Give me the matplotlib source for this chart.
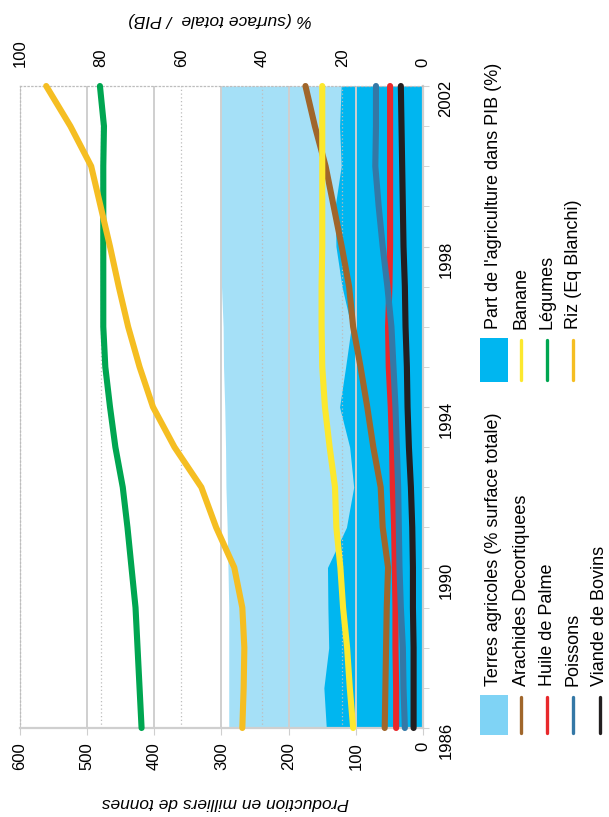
import matplotlib
matplotlib.use("Agg")
import matplotlib.pyplot as plt
from matplotlib.patches import Rectangle
from matplotlib.ticker import MultipleLocator
import numpy as np

plt.rcParams['font.family'] = ['Liberation Sans', 'DejaVu Sans']

# ---- data ----
years = np.arange(1986, 2003)

# production, thousands of tonnes
arachides = [57, 56, 55, 54, 52, 60, 63, 74, 83, 93, 104, 110, 121, 133, 145, 161, 175]
banane = [104, 109, 113, 119, 123, 129, 131, 139, 146, 150, 151, 151, 150, 150, 150, 150, 150]
huile = [40, 40, 41, 41, 42, 43, 45, 46, 48, 51, 52, 50, 49, 49, 49, 49, 49]
legumes = [419, 422, 425, 428, 434, 440, 447, 458, 466, 473, 476, 476, 476, 476, 476, 475, 481]
poissons = [27, 29, 30, 33, 35, 36, 37, 39, 41, 44, 47, 53, 60, 66, 71, 70, 70]
riz = [269, 267, 266, 269, 281, 308, 330, 370, 402, 422, 439, 453, 466, 480, 494, 525, 561]
viande = [14, 14, 14, 15, 15, 16, 18, 21, 23, 24, 26, 27, 29, 30, 31, 32, 33]

# percent (right axis)
terres = [48.2, 48.2, 48.2, 48.2, 48.4, 48.6, 48.9, 49.0, 49.2, 49.5, 49.6, 50.0,
          50.2, 50.2, 50.2, 50.2, 50.2]
pib = [24.0, 24.6, 23.4, 23.6, 23.7, 19.0, 17.2, 18.2, 20.7, 19.2, 17.8, 20.1,
       21.6, 21.8, 20.3, 20.7, 20.3]

prod_ticks = [0, 100, 200, 300, 400, 500, 600]
pct_ticks = [0, 20, 40, 60, 80, 100]
year_ticks = [1986, 1990, 1994, 1998, 2002]

# ---- styles ----
c_terres = '#7FD3F5'
c_pib = '#00B6F0'
series = [
    ('Arachides Decortiquees', arachides, '#A0662B'),
    ('Banane', banane, '#FCE82E'),
    ('Huile de Palme', huile, '#E8282B'),
    ('Légumes', legumes, '#00A651'),
    ('Poissons', poissons, '#3478A6'),
    ('Riz (Eq Blanchi)', riz, '#F5BE22'),
    ('Viande de Bovins', viande, '#231F20'),
]
colors = {name: col for name, _, col in series}
grid_c = '#CFCFCF'

W, H = 609, 817
fig = plt.figure(figsize=(W / 100, H / 100), dpi=100)

# chart is drawn turned a quarter turn: years go up, values go right-to-left
x0, x1, y0, y1 = 20, 423, 86, 728
ax = fig.add_axes([x0 / W, 1 - y1 / H, (x1 - x0) / W, (y1 - y0) / H])
ax2 = ax.twiny()
ax.set_zorder(ax2.get_zorder() + 1)
ax.patch.set_visible(False)

# areas on the % axis
ax2.fill_betweenx(years, 0, terres, color=c_terres, alpha=0.7, lw=0, zorder=0.2)
ax2.fill_betweenx(years, 0, pib, color=c_pib, lw=0, zorder=0.3)
ax2.set_xlim(100, 0)
ax2.set_xticks(pct_ticks)
ax2.grid(axis='x', linestyle=(0, (1, 2)), color='#BDBDBD', lw=0.9, zorder=1)
ax2.tick_params(axis='x', length=0, pad=14, labelrotation=90, labelsize=12)
for s in ax2.spines.values():
    s.set_visible(False)

# production lines
for name, vals, col in series:
    ax.plot(vals, years, color=col, lw=4.4, solid_capstyle='round',
            solid_joinstyle='round', clip_on=False, zorder=3)

ax.set_xlim(600, 0)
ax.set_ylim(1986, 2002)
ax.set_xticks(prod_ticks)
ax.grid(axis='x', color=grid_c, lw=1.4, zorder=1)
ax.yaxis.tick_right()
ax.set_yticks(year_ticks)
ax.yaxis.set_minor_locator(MultipleLocator(1))
ax.tick_params(axis='x', which='both', length=5, color=grid_c, pad=5,
               labelrotation=90, labelsize=12)
ax.tick_params(axis='y', which='both', length=4, color=grid_c, pad=7,
               labelrotation=90, labelsize=12)
for side in ['bottom', 'right']:
    ax.spines[side].set_color(grid_c)
    ax.spines[side].set_linewidth(1.6)
for side in ['top', 'left']:
    ax.spines[side].set_color('#BDBDBD')
    ax.spines[side].set_linewidth(0.9)
    ax.spines[side].set_linestyle((0, (1, 2)))

# axis titles (upside down like the reference)
fig.text(225 / W, 1 - 803 / H, 'Production en milliers de tonnes', rotation=180,
         ha='center', va='center', fontsize=12.5, style='italic')
fig.text(220 / W, 1 - 20 / H, '% (surface totale  / PIB)', rotation=180,
         ha='center', va='center', fontsize=12.5, style='italic')

# ---- legend, drawn by hand so that the text can be turned ----
lax = fig.add_axes([0, 0, 1, 1], zorder=10)
lax.set_xlim(0, W)
lax.set_ylim(H, 0)
lax.axis('off')

col1 = ['Terres agricoles (% surface totale)', 'Arachides Decortiquees',
        'Huile de Palme', 'Poissons', 'Viande de Bovins']
col2 = ["Part de l'agriculture dans PIB (%)", 'Banane', 'Légumes', 'Riz (Eq Blanchi)']
row_x = [494, 521, 547, 573, 600]

for labels, sw_top, sw_bot in [(col1, 695, 735), (col2, 338, 382)]:
    for i, lab in enumerate(labels):
        xc = row_x[i]
        if i == 0:
            fc = c_terres if lab.startswith('Terres') else c_pib
            lax.add_patch(Rectangle((xc - 14, sw_top), 28, sw_bot - sw_top, color=fc, lw=0))
        else:
            lax.plot([xc, xc], [sw_top + 2, sw_bot - 2], color=colors[lab], lw=2.4,
                     solid_capstyle='round')
        lax.text(xc, sw_top - 9, lab, rotation=90, rotation_mode='anchor',
                 ha='left', va='center', fontsize=13)

fig.savefig('out.png', dpi=100)
